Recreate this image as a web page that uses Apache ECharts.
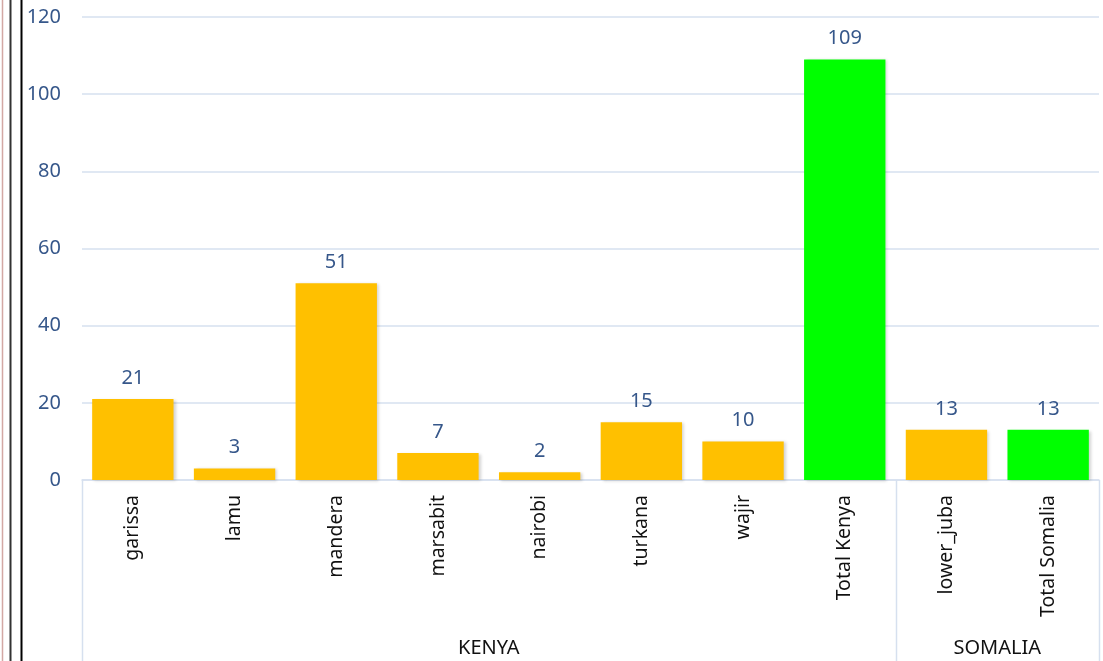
<!DOCTYPE html>
<html><head><meta charset="utf-8">
<script src="https://cdn.jsdelivr.net/npm/echarts@6/dist/echarts.min.js"></script>
<style>html,body{margin:0;padding:0;background:#fff}#c{width:1103px;height:661px}</style>
</head><body><div id="c"></div>
<script>
const categories = ['garissa','lamu','mandera','marsabit','nairobi','turkana','wajir','Total Kenya','lower_juba','Total Somalia'];
const values = [21, 3, 51, 7, 2, 15, 10, 109, 13, 13];
const isTotal = [false,false,false,false,false,false,false,true,false,true];
const groups = ['KENYA','SOMALIA'];
const groupSizes = [8, 2];
const yTicks = [0, 20, 40, 60, 80, 100, 120];

const FONT = '"Noto Sans", sans-serif';
const BLUE = '#36578a';
const LINE = '#d6e0ef';

const chart = echarts.init(document.getElementById('c'), null, {renderer:'canvas'});
chart.setOption({
  animation:false,
  grid:{left:82, right:4, top:17, bottom:181, containLabel:false},
  xAxis:{
    type:'category', data:categories,
    axisLine:{show:true, lineStyle:{color:LINE, width:1.5}},
    axisTick:{show:false},
    axisLabel:{rotate:90, margin:15, color:'#111', fontSize:19.5, fontFamily:FONT}
  },
  yAxis:{
    type:'value', min:yTicks[0], max:yTicks[yTicks.length-1], interval:20,
    axisLine:{show:false}, axisTick:{show:false},
    axisLabel:{color:BLUE, fontSize:20, fontFamily:FONT, margin:21},
    splitLine:{lineStyle:{color:LINE, width:1.5}}
  },
  series:[{
    type:'bar', barCategoryGap:'20%',
    data: values.map((v,i)=>({value:v, itemStyle:{color: isTotal[i] ? '#00FF00' : '#FFC000'}})),
    itemStyle:{shadowColor:'rgba(0,0,0,0.18)', shadowBlur:3, shadowOffsetX:2, shadowOffsetY:1},
    label:{show:true, position:'top', distance:11, color:BLUE, fontSize:20, fontFamily:FONT}
  }]
});

const c0 = chart.convertToPixel({xAxisIndex:0}, 0);
const c1 = chart.convertToPixel({xAxisIndex:0}, 1);
const bw = c1 - c0;
const y0 = chart.convertToPixel({yAxisIndex:0}, 0);
const H = 661;
const els = [];
let start = 0;
const bounds = [c0 - bw/2];
groups.forEach((g, gi) => {
  const left = c0 - bw/2 + start*bw;
  const right = left + groupSizes[gi]*bw;
  bounds.push(right);
  els.push({type:'text', x:(left+right)/2, y:648, style:{text:g, fill:'#111', font:'20px '+FONT, align:'center', verticalAlign:'middle'}});
  start += groupSizes[gi];
});
bounds.forEach(x => {
  els.push({type:'line', shape:{x1:Math.round(x)+0.5, y1:y0, x2:Math.round(x)+0.5, y2:H}, style:{stroke:LINE, lineWidth:1.5}});
});
els.push({type:'line', shape:{x1:2.5,y1:0,x2:2.5,y2:H}, style:{stroke:'#d3a8a4', lineWidth:1.5}});
els.push({type:'line', shape:{x1:10.5,y1:0,x2:10.5,y2:H}, style:{stroke:'#333', lineWidth:2}});
els.push({type:'line', shape:{x1:21.5,y1:0,x2:21.5,y2:H}, style:{stroke:'#000', lineWidth:2}});
chart.setOption({graphic:{elements:els}});
</script></body></html>
